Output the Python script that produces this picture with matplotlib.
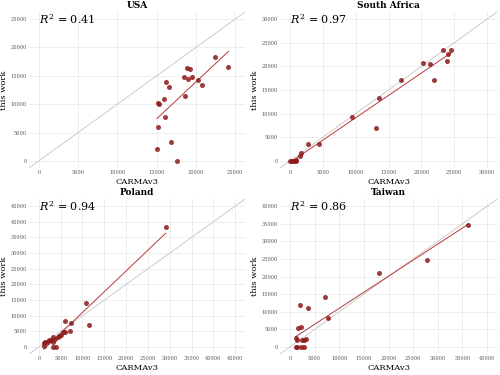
import numpy as np
import matplotlib
matplotlib.use("Agg")
import matplotlib.pyplot as plt

# --------------------------
# Data
# --------------------------
usa_carma = [15.03, 15.15, 15.24, 15.2, 15.98, 16.02, 16.23, 16.62, 16.88, 17.6,
             18.52, 18.6, 18.83, 19.0, 19.3, 19.47, 20.3, 20.77, 22.37, 24.14]
usa_work = [2.1, 10.27, 10.04, 5.93, 10.97, 7.75, 13.9, 12.97, 3.35, 0.06,
            14.79, 11.38, 16.3, 14.44, 16.26, 14.79, 14.26, 13.38, 18.37, 16.6]

sa_carma = [0.0, 0.25, 0.56, 0.86, 0.96, 1.47, 1.73, 2.8, 4.42, 9.39,
            13.05, 13.5, 16.9, 20.2, 21.37, 21.88, 23.25, 23.86, 24.0, 24.47]
sa_work = [0.0, 0.0, 0.0, 0.0, 0.28, 1.13, 1.76, 3.52, 3.52, 9.23,
           6.9, 13.38, 17.1, 20.77, 20.49, 17.1, 23.52, 21.13, 22.68, 23.45]

pol_carma = [1.14, 1.14, 1.44, 1.9, 2.4, 2.8, 3.2, 3.2, 3.26, 3.9, 3.8,
             4.3, 4.7, 5.1, 5.45, 5.9, 6.0, 7.1, 7.35, 10.75, 11.5, 29.1]
pol_work = [0.2, 1.38, 1.49, 1.6, 2.1, 2.2, 1.7, 3.1, 0.1, 0.1, 2.5,
            3.1, 3.5, 3.8, 4.7, 4.7, 8.3, 5.2, 7.5, 14.2, 6.9, 38.5]

tw_carma = [1.15, 1.29, 1.42, 1.42, 1.69, 1.96, 2.17, 2.3, 2.5, 2.77,
            2.84, 3.18, 3.59, 7.17, 7.78, 18.13, 27.8, 36.06]
tw_work = [2.6, 0.0, 2.1, 0.0, 5.4, 11.8, 5.75, 0.0, 1.9, 0.0,
           2.0, 2.4, 11.0, 14.15, 8.2, 21.0, 24.6, 34.7]

titles = ["USA", "South Africa", "Poland", "Taiwan"]
r2_labels = ["0.41", "0.97", "0.94", "0.86"]
top_ticks = [25000, 30000, 45000, 40000]

panels = [(usa_carma, usa_work), (sa_carma, sa_work),
          (pol_carma, pol_work), (tw_carma, tw_work)]

# --------------------------
# Figure
# --------------------------
plt.rcParams["font.family"] = ["DejaVu Serif"]
plt.rcParams["mathtext.fontset"] = "dejavuserif"
fig = plt.figure(figsize=(5, 3.75), dpi=100)

rects = [[0.058, 0.552, 0.432, 0.416],
         [0.560, 0.552, 0.434, 0.416],
         [0.058, 0.056, 0.432, 0.413],
         [0.560, 0.056, 0.434, 0.413]]

point_col = "#8b1a1a"
fit_col = "#b83a3a"

for rect, (cx, cy), title, r2, top in zip(rects, panels, titles, r2_labels, top_ticks):
    ax = fig.add_axes(rect)
    x = np.array(cx) * 1000
    y = np.array(cy) * 1000
    pad = 0.05 * top
    lims = (-pad, top + pad)

    # identity line
    ax.plot(lims, lims, color="#c4c4c4", lw=0.6, zorder=1)
    # linear fit over data range
    k, b = np.polyfit(x, y, 1)
    xs = np.array([x.min(), x.max()])
    ax.plot(xs, k * xs + b, color=fit_col, lw=0.7, zorder=2)
    ax.scatter(x, y, s=13, color=point_col, alpha=0.85, linewidths=0, zorder=3)

    ax.set_xlim(lims)
    ax.set_ylim(lims)
    ticks = np.arange(0, top + 1, 5000)
    ax.set_xticks(ticks)
    ax.set_yticks(ticks)
    ax.set_xticklabels([str(t) for t in ticks])
    ax.set_yticklabels([str(t) for t in ticks])
    ax.tick_params(length=0, labelsize=3.6, labelcolor="#555555", pad=1.5)
    ax.grid(True, color="#ebebeb", lw=0.6)
    ax.set_axisbelow(True)
    for s in ax.spines.values():
        s.set_visible(False)

    ax.set_title(title, fontsize=6.5, fontweight="bold", pad=3)
    ax.set_xlabel("CARMAv3", fontsize=6, labelpad=2)
    ax.set_ylabel("this work", fontsize=6)
    ax.yaxis.set_label_coords(-0.095, 0.5)
    ax.text(0, top, r"$R^2$ = " + r2, fontsize=8, ha="left", va="center")

fig.savefig("out.png", dpi=100)
